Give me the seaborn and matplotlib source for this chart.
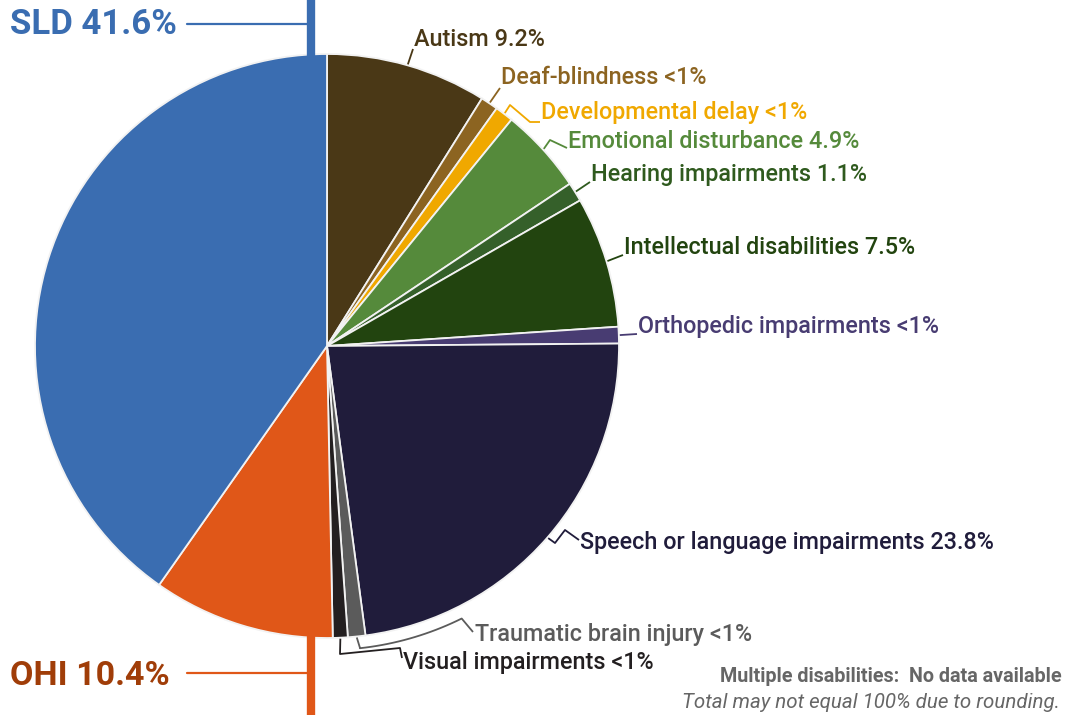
import numpy as np
import matplotlib
matplotlib.use("Agg")
import matplotlib.pyplot as plt
import seaborn as sns

# ---------------- data ----------------
categories = ["Autism", "Deaf-blindness", "Developmental delay", "Emotional disturbance",
              "Hearing impairments", "Intellectual disabilities", "Orthopedic impairments",
              "Speech or language impairments", "Traumatic brain injury", "Visual impairments",
              "OHI", "SLD"]
shares = [9.2, 1.0, 1.05, 4.9, 1.1, 7.5, 0.95, 23.8, 1.0, 0.85, 10.4, 41.6]
value_labels = ["9.2%", "<1%", "<1%", "4.9%", "1.1%", "7.5%", "<1%", "23.8%",
                "<1%", "<1%", "10.4%", "41.6%"]
slice_colors = ["#4A3816", "#8C6421", "#F0A800", "#558A3B", "#35602A", "#22440F",
                "#483C72", "#201C3B", "#5B5B5B", "#231F20", "#E05718", "#3A6DB1"]
label_colors = ["#4A3816", "#8C6421", "#F0A800", "#558A3B", "#2F5A1E", "#22440F",
                "#483C72", "#201C3B", "#5B5B5B", "#231F20", "#A03D08", "#3A6DB1"]
footer_lines = ["Multiple disabilities:  No data available",
                "Total may not equal 100% due to rounding."]

# ---------------- style ----------------
sns.set_theme(style="white")
plt.rcParams['font.family'] = ['Roboto', 'DejaVu Sans']

W, H = 1073, 715
fig = plt.figure(figsize=(W / 100, H / 100), dpi=100)
ax = fig.add_axes([0, 0, 1, 1])


def Y(y):
    return H - y


cx, cy, R = 327, 346, 292
wedges, _ = ax.pie(shares, colors=sns.color_palette(slice_colors), startangle=90,
                   counterclock=False, center=(cx, Y(cy)), radius=R, frame=True,
                   wedgeprops=dict(edgecolor="#F2F2F2", linewidth=1.3))
ax.set_xlim(0, W)
ax.set_ylim(0, H)
ax.set_aspect("equal")
ax.axis("off")


def anchor(i, r=R + 1):
    w = wedges[i]
    th = np.deg2rad((w.theta1 + w.theta2) / 2)
    return cx + r * np.cos(th), Y(cy) + r * np.sin(th)


def arc(r, a0, a1, n=20):
    t = np.deg2rad(np.linspace(a0, a1, n))
    return [(cx + r * np.cos(a), cy - r * np.sin(a)) for a in t]


# leader paths (image coords) and text positions
specs = {
    0: ([(413, 49)], 414, 40),
    1: ([(500, 88)], 501, 78),
    2: ([(510, 105), (530, 122), (540, 122)], 541, 112),
    3: ([(550, 140), (567, 148)], 568, 142),
    4: ([(590, 182)], 591, 174),
    5: ([(623, 255)], 624, 247),
    6: ([(637, 334)], 638, 326),
    7: ([(555, 543), (565, 530), (579, 540)], 580, 542),
    8: ([(360, 648)] + arc(304, -83.8, -63.7) + [(473, 632)], 475, 634),
    9: ([(340, 654), (400, 648), (402, 658)], 403, 662),
}

for i, (pts, tx, ty) in specs.items():
    x0, y0 = anchor(i)
    xs = [x0] + [p[0] for p in pts]
    ys = [y0] + [Y(p[1]) for p in pts]
    ax.plot(xs, ys, color=label_colors[i], lw=1.3, solid_capstyle="butt", zorder=3)
    ax.text(tx, Y(ty), f"{categories[i]} {value_labels[i]}", color=label_colors[i],
            fontsize=16.8, fontweight="medium", ha="left", va="center", zorder=4)

# SLD callout
ax.plot([311, 311], [Y(0), Y(56)], color=slice_colors[11], lw=6, solid_capstyle="butt", zorder=1)
ax.plot([187, 311], [Y(24), Y(24)], color=slice_colors[11], lw=1.6, zorder=1)
ax.text(10, Y(24), f"{categories[11]} {value_labels[11]}", color=label_colors[11],
        fontsize=25, fontweight="bold", ha="left", va="center")

# OHI callout
ax.plot([311, 311], [Y(636), Y(715)], color=slice_colors[10], lw=6, solid_capstyle="butt", zorder=1)
ax.plot([187, 311], [Y(673), Y(673)], color=slice_colors[10], lw=1.6, zorder=1)
ax.text(10, Y(676), f"{categories[10]} {value_labels[10]}", color=label_colors[10],
        fontsize=24.5, fontweight="bold", ha="left", va="center")

# footer
ax.text(1062, Y(677), footer_lines[0], color="#666666", fontsize=14.2,
        fontweight="bold", ha="right", va="center")
ax.text(1060, Y(703), footer_lines[1], color="#666666", fontsize=14.8,
        fontstyle="italic", ha="right", va="center")

fig.savefig("out.png", dpi=100)
